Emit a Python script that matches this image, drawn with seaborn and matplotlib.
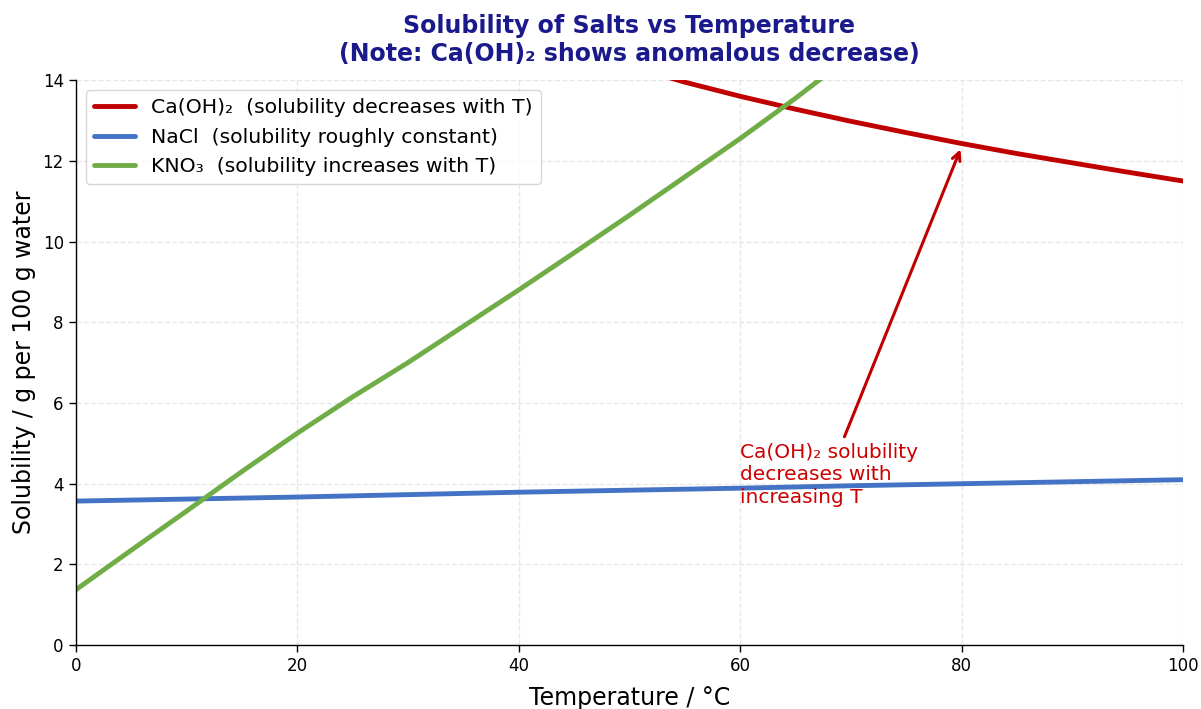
import matplotlib
matplotlib.use("Agg")
import matplotlib.pyplot as plt
import pandas as pd
import seaborn as sns

# values (temperature in °C, g per 100 g water)
temps = [0, 5, 10, 15, 20, 25, 30, 35, 40, 45, 50, 55, 60, 65, 70, 75, 80, 85, 90, 95, 100]
caoh2 = [19.9, 19.2, 18.6, 18.0, 17.4, 16.85, 16.3, 15.8, 15.3, 14.8, 14.35, 13.95,
         13.6, 13.28, 12.98, 12.7, 12.43, 12.18, 11.95, 11.72, 11.5]
nacl = [3.57, 3.595, 3.62, 3.645, 3.67, 3.70, 3.73, 3.76, 3.79, 3.815, 3.84, 3.865,
        3.89, 3.92, 3.95, 3.975, 4.0, 4.025, 4.05, 4.075, 4.1]
kno3 = [1.37, 2.35, 3.32, 4.3, 5.25, 6.15, 7.0, 7.9, 8.8, 9.72, 10.65, 11.6,
        12.55, 13.55, 14.6, 15.7, 16.8, 17.95, 19.1, 20.3, 21.5]

labels = [
    "Ca(OH)₂  (solubility decreases with T)",
    "NaCl  (solubility roughly constant)",
    "KNO₃  (solubility increases with T)",
]
colors = ["#C00000", "#4472C4", "#70AD47"]

df = pd.DataFrame({
    "T": temps * 3,
    "S": caoh2 + nacl + kno3,
    "salt": [labels[0]] * len(temps) + [labels[1]] * len(temps) + [labels[2]] * len(temps),
})

sns.set_style("white")
plt.rcParams["font.family"] = ["DejaVu Sans"]
plt.rcParams.update({"text.color": "black", "axes.labelcolor": "black",
                     "xtick.color": "black", "ytick.color": "black"})

fig, ax = plt.subplots(figsize=(12.01, 7.09), dpi=100)
fig.subplots_adjust(left=0.063, right=0.985, top=0.887, bottom=0.09)

sns.lineplot(data=df, x="T", y="S", hue="salt", palette=colors, linewidth=3.5, ax=ax)

ax.set_xlim(0, 100)
ax.set_ylim(0, 14)
ax.set_xticks(range(0, 101, 20))
ax.set_yticks(range(0, 15, 2))
ax.grid(True, linestyle="--", color="#dddddd", linewidth=1, alpha=0.7)
ax.tick_params(axis="both", labelsize=12, length=5, width=1, direction="out",
               bottom=True, left=True)
for side in ["top", "right"]:
    ax.spines[side].set_visible(False)
for side in ["left", "bottom"]:
    ax.spines[side].set_color("black")
    ax.spines[side].set_linewidth(1)

ax.set_xlabel("Temperature / °C", fontsize=17, labelpad=8)
ax.set_ylabel("Solubility / g per 100 g water", fontsize=17, labelpad=5)
ax.set_title("Solubility of Salts vs Temperature\n(Note: Ca(OH)₂ shows anomalous decrease)",
             fontsize=17, fontweight="bold", color="#1a1a8c", pad=14)

ax.annotate("Ca(OH)₂ solubility\ndecreases with\nincreasing T",
            xy=(80, 12.35), xytext=(60, 4.22), ha="left", va="center",
            fontsize=14.5, color="#CC0000", linespacing=1.25,
            arrowprops=dict(arrowstyle="->", color="#C00000", lw=2.2))

leg = ax.legend(loc="upper left", fontsize=14.7, frameon=True, title=None)
for line in leg.get_lines():
    line.set_linewidth(3.5)

fig.savefig("out.png", dpi=100)
